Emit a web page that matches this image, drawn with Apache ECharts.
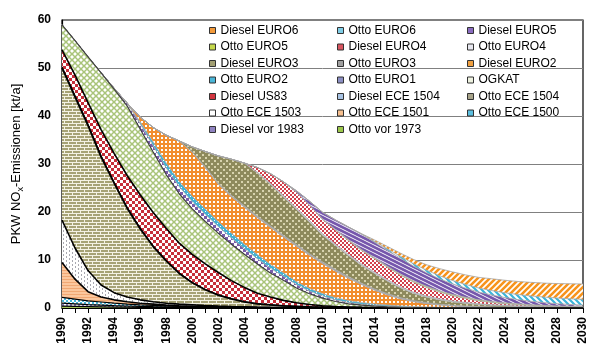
<!DOCTYPE html>
<html><head><meta charset="utf-8">
<script src="https://cdn.jsdelivr.net/npm/echarts@6/dist/echarts.min.js"></script>
<style>html,body{margin:0;padding:0;background:#fff}#c{width:600px;height:356px}</style>
</head><body><div id="c"></div>
<script>
const years = ['1990','1991','1992','1993','1994','1995','1996','1997','1998','1999','2000','2001','2002','2003','2004','2005','2006','2007','2008','2009','2010','2011','2012','2013','2014','2015','2016','2017','2018','2019','2020','2021','2022','2023','2024','2025','2026','2027','2028','2029','2030'];
const yTicks = [0,10,20,30,40,50,60];

const ottoVor1973   = [0.4,0.35,0.3,0.25,0.2,0.17,0.14,0.12,0.1,0.08, 0.06,0.05,0.04,0.03,0.03,0.02,0.02,0.02,0.01,0.01, 0.01,0,0,0,0,0,0,0,0,0, 0,0,0,0,0,0,0,0,0,0, 0];
const dieselVor1983 = [0.6,0.5,0.4,0.35,0.3,0.25,0.2,0.16,0.13,0.1, 0.08,0.06,0.05,0.04,0.03,0.02,0.02,0.01,0.01,0, 0,0,0,0,0,0,0,0,0,0, 0,0,0,0,0,0,0,0,0,0, 0];
const ottoECE1500   = [1.2,1.0,0.8,0.65,0.5,0.4,0.32,0.25,0.2,0.15, 0.12,0.1,0.08,0.06,0.05,0.04,0.03,0.02,0.02,0.01, 0.01,0,0,0,0,0,0,0,0,0, 0,0,0,0,0,0,0,0,0,0, 0];
const ottoECE1501   = [7.3,4.15,1.9,1.05,0.7,0.48,0.34,0.27,0.17,0.12, 0.1,0.08,0.06,0.05,0.04,0.03,0.02,0.02,0.01,0.01, 0,0,0,0,0,0,0,0,0,0, 0,0,0,0,0,0,0,0,0,0, 0];
const ottoECE1503   = [8.8,6.5,4.4,2.5,1.5,1.0,0.7,0.5,0.4,0.35, 0.3,0.22,0.16,0.12,0.09,0.07,0.05,0.04,0.03,0.02, 0.01,0,0,0,0,0,0,0,0,0, 0,0,0,0,0,0,0,0,0,0, 0];
const ottoECE1504   = [31.7,31.5,30.2,26.7,22.8,18.5,14.8,11.5,8.8,6.4, 4.6,3.3,2.3,1.6,1.05,0.7,0.5,0.33,0.25,0.17, 0.13,0.1,0.07,0.05,0.03,0.02,0.01,0,0,0, 0,0,0,0,0,0,0,0,0,0, 0];
const dieselECE1504 = [0.3,0.3,0.3,0.28,0.25,0.22,0.2,0.17,0.15,0.12, 0.1,0.08,0.06,0.05,0.04,0.03,0.02,0.02,0.01,0.01, 0,0,0,0,0,0,0,0,0,0, 0,0,0,0,0,0,0,0,0,0, 0];
const dieselUS83    = [3.5,4.2,4.5,5.4,5.95,6.58,6.9,6.93,6.65,6.18, 5.8,5.32,4.64,3.75,2.96,2.17,1.63,1.13,0.74,0.49, 0.3,0.2,0.15,0.08,0.05,0.03,0.02,0,0,0, 0,0,0,0,0,0,0,0,0,0, 0];
const ogkat         = [5.2,7.2,9.5,11.8,13.4,14.5,13.7,12.6,11.2,10.3, 9.5,8.8,8.2,7.6,6.9,6.1,5.0,4.2,3.1,2.25, 1.6,1.05,0.65,0.45,0.3,0.2,0.12,0.08,0.05,0.03, 0.02,0.01,0.01,0.01,0,0,0,0,0,0, 0];
const ottoEuro1     = [0,0,0,0.05,0.2,0.6,1.1,1.3,1.4,1.5, 1.5,1.5,1.4,1.3,1.2,1.1,1.0,0.85,0.7,0.55, 0.45,0.35,0.27,0.2,0.15,0.1,0.07,0.05,0.03,0.02, 0.01,0.01,0,0,0,0,0,0,0,0, 0];
const ottoEuro2     = [0,0,0,0,0,0,0.4,0.8,1.0,1.1, 1.1,1.1,1.0,1.0,0.9,0.85,0.8,0.7,0.6,0.55, 0.5,0.45,0.4,0.35,0.3,0.25,0.2,0.17,0.14,0.11, 0.09,0.07,0.05,0.04,0.03,0.02,0.02,0.01,0.01,0.01, 0.01];
const dieselEuro2   = [0,0,0,0,0,0,1.0,3.0,5.8,8.4, 9.2,8.6,7.8,7.6,7.7,7.65,7.7,7.45,7.4,6.9, 6.25,5.5,4.63,3.75,2.85,2.1,1.48,1.0,0.68,0.44, 0.28,0.18,0.12,0.08,0.06,0.04,0.03,0.02,0.01,0.01, 0.01];
const ottoEuro3     = [0,0,0,0,0,0,0,0,0,0, 0.1,0.2,0.2,0.3,0.3,0.35,0.35,0.35,0.35,0.35, 0.35,0.35,0.35,0.3,0.3,0.28,0.25,0.22,0.2,0.18, 0.16,0.14,0.12,0.1,0.09,0.08,0.07,0.06,0.05,0.04, 0.03];
const dieselEuro3   = [0,0,0,0,0,0,0,0,0,0, 1.0,3.2,5.7,7.5,8.9,9.0,8.6,8.0,7.3,6.6, 5.55,5.0,4.35,3.7,3.2,2.6,2.0,1.5,1.15,0.9, 0.7,0.55,0.42,0.32,0.25,0.19,0.14,0.11,0.08,0.06, 0.05];
const ottoEuro4     = [0,0,0,0,0,0,0,0,0,0, 0,0,0,0,0,0.15,0.25,0.3,0.3,0.3, 0.3,0.3,0.3,0.3,0.3,0.28,0.27,0.25,0.23,0.22, 0.2,0.18,0.16,0.14,0.12,0.1,0.09,0.08,0.07,0.06, 0.05];
const dieselEuro4   = [0,0,0,0,0,0,0,0,0,0, 0,0,0,0,0,1.0,2.0,2.85,3.3,3.2, 3.0,2.9,2.85,2.8,2.8,2.6,2.4,2.1,1.8,1.4, 1.1,0.85,0.6,0.45,0.33,0.25,0.18,0.13,0.1,0.08, 0.06];
const ottoEuro5     = [0,0,0,0,0,0,0,0,0,0, 0,0,0,0,0,0,0,0,0,0.05, 0.1,0.15,0.2,0.2,0.2,0.22,0.23,0.24,0.25,0.25, 0.25,0.24,0.23,0.22,0.2,0.18,0.16,0.14,0.12,0.1, 0.09];
const dieselEuro5   = [0,0,0,0,0,0,0,0,0,0, 0,0,0,0,0,0,0,0,0.3,0.8, 1.4,2.0,2.65,3.2,3.2,3.3,3.3,3.1,2.8,2.5, 2.2,1.9,1.6,1.35,1.1,0.9,0.72,0.58,0.46,0.37, 0.3];
const ottoEuro6     = [0,0,0,0,0,0,0,0,0,0, 0,0,0,0,0,0,0,0,0,0, 0,0,0,0.05,0.2,0.32,0.4,0.5,0.55,0.65, 0.7,0.78,0.85,0.92,1.0,1.05,1.1,1.15,1.18,1.2, 1.2];
const dieselEuro6   = [0,0,0,0,0,0,0,0,0,0, 0,0,0,0,0,0,0,0,0,0, 0,0,0,0.05,0.3,0.5,0.65,0.89,1.12,1.5, 1.8,1.98,2.22,2.46,2.6,2.72,2.83,2.91,3.01,3.12, 3.2];

const legendCol1 = ['Diesel EURO6','Otto EURO5','Diesel EURO3','Otto EURO2','Diesel US83','Otto ECE 1503','Diesel vor 1983'];
const legendCol2 = ['Otto EURO6','Diesel EURO4','Otto EURO3','Otto EURO1','Diesel ECE 1504','Otto ECE 1501','Otto vor 1973'];
const legendCol3 = ['Diesel EURO5','Otto EURO4','Diesel EURO2','OGKAT','Otto ECE 1504','Otto ECE 1500'];

function pat(w, h, bg, draw) {
  const c = document.createElement('canvas'); c.width = w; c.height = h;
  const g = c.getContext('2d'); g.fillStyle = bg; g.fillRect(0, 0, w, h); draw(g);
  return { image: c, repeat: 'repeat' };
}
function rects(col, list) { return g => { g.fillStyle = col; list.forEach(r => g.fillRect(r[0], r[1], r[2], r[3])); }; }
function slashes(col, lw, dir) {
  return g => { g.strokeStyle = col; g.lineWidth = lw; g.beginPath();
    if (dir > 0) { g.moveTo(-1, 7); g.lineTo(7, -1); g.moveTo(-1, 1); g.lineTo(1, -1); g.moveTo(5, 7); g.lineTo(7, 5); }
    else { g.moveTo(-1, -1); g.lineTo(7, 7); g.moveTo(5, -1); g.lineTo(7, 1); g.moveTo(-1, 5); g.lineTo(1, 7); }
    g.stroke(); };
}

const styles = {
  'Otto vor 1973':   { fill: '#a3c35b', icon: '#9cc84b', line: '#000', lw: 1.2 },
  'Diesel vor 1983': { fill: pat(4,4,'#8a7fb8', rects('#fff', [[0,0,2,2],[2,2,2,2]])), icon: '#8f82c0', line: '#000', lw: 1.2 },
  'Otto ECE 1500':   { fill: pat(4,4,'#47b8dc', rects('#fff', [[0,0,2,2],[2,2,2,2]])), icon: '#5bbfe0', line: '#000', lw: 1.2 },
  'Otto ECE 1501':   { fill: pat(4,3,'#fbc79d', rects('#f0a874', [[0,0,4,1]])), icon: '#f7c08f', line: '#000', lw: 1.6 },
  'Otto ECE 1503':   { fill: pat(6,4,'#ffffff', rects('#a8a8b0', [[0,0,1,2],[3,2,1,2]])), icon: '#ffffff', line: '#000', lw: 1.6 },
  'Otto ECE 1504':   { fill: pat(8,6,'#a6a275', rects('#f4f2e4', [[0,0,8,1],[0,3,8,1],[0,0,1,3],[4,3,1,3]])), icon: '#a8a48a', line: '#000', lw: 1.8 },
  'Diesel ECE 1504': { fill: '#c5d3ea', icon: '#a9c4e4', line: '#000', lw: 1.0 },
  'Diesel US83':     { fill: pat(6,6,'#c62f3a', rects('#fff', [[0,0,3,3],[3,3,3,3]])), icon: '#d2353f', line: '#000', lw: 1.6 },
  'OGKAT':           { fill: pat(6,6,'#ffffff', g => { g.strokeStyle = '#a9c47a'; g.lineWidth = 1.5; g.beginPath(); g.moveTo(-1,-1); g.lineTo(7,7); g.moveTo(-1,7); g.lineTo(7,-1); g.stroke(); }), icon: '#eef2e0', line: '#404040', lw: 1.2 },
  'Otto EURO1':      { fill: pat(6,6,'#ffffff', rects('#7a5cab', [[0,0,3,3],[3,3,3,3]])), icon: '#8c8fc4', line: '#a6a6a6', lw: 0.8 },
  'Otto EURO2':      { fill: pat(3,3,'#3fb3d6', rects('#fff', [[1,1,1,1]])), icon: '#4ab6d8', line: '#a6a6a6', lw: 0.8 },
  'Diesel EURO2':    { fill: pat(4,4,'#f28e2e', rects('#fff', [[1,1,2,2]])), icon: '#f0a040', line: '#a6a6a6', lw: 0.8 },
  'Otto EURO3':      { fill: '#a8a8a8', icon: '#a0a0a0', line: '#a6a6a6', lw: 0.8 },
  'Diesel EURO3':    { fill: pat(6,6,'#8e8a5c', rects('#d8d3ad', [[1,1,2,2],[4,4,2,2]])), icon: '#a29f72', line: '#a6a6a6', lw: 0.8 },
  'Otto EURO4':      { fill: '#d9d9e6', icon: '#e8e8f0', line: '#a6a6a6', lw: 0.8 },
  'Diesel EURO4':    { fill: pat(4,4,'#ffffff', rects('#d2404c', [[0,0,2,2],[2,2,2,2]])), icon: '#d95560', line: '#a6a6a6', lw: 0.8 },
  'Otto EURO5':      { fill: '#c8d97a', icon: '#c5d84a', line: '#a6a6a6', lw: 0.8 },
  'Diesel EURO5':    { fill: pat(8,4,'#ffffff', g => { g.strokeStyle = '#7657ac'; g.lineWidth = 2.8; g.beginPath(); g.moveTo(-2,-1); g.lineTo(10,5); g.moveTo(-2,-5); g.lineTo(10,1); g.moveTo(-2,3); g.lineTo(10,9); g.stroke(); }), icon: '#8a6cc0', line: '#a6a6a6', lw: 0.8 },
  'Otto EURO6':      { fill: pat(6,6,'#ffffff', slashes('#3cb4d9', 2.2, -1)), icon: '#7fcde6', line: '#a6a6a6', lw: 0.8 },
  'Diesel EURO6':    { fill: pat(6,6,'#ffffff', slashes('#f7941d', 2.6, 1)), icon: '#f39a3a', line: '#a6a6a6', lw: 0.8 }
};

const stackOrder = [
  ['Otto vor 1973', ottoVor1973], ['Diesel vor 1983', dieselVor1983], ['Otto ECE 1500', ottoECE1500],
  ['Otto ECE 1501', ottoECE1501], ['Otto ECE 1503', ottoECE1503], ['Otto ECE 1504', ottoECE1504],
  ['Diesel ECE 1504', dieselECE1504], ['Diesel US83', dieselUS83], ['OGKAT', ogkat],
  ['Otto EURO1', ottoEuro1], ['Otto EURO2', ottoEuro2], ['Diesel EURO2', dieselEuro2],
  ['Otto EURO3', ottoEuro3], ['Diesel EURO3', dieselEuro3], ['Otto EURO4', ottoEuro4],
  ['Diesel EURO4', dieselEuro4], ['Otto EURO5', ottoEuro5], ['Diesel EURO5', dieselEuro5],
  ['Otto EURO6', ottoEuro6], ['Diesel EURO6', dieselEuro6]
];

const FONT = 'Liberation Sans, Arial, sans-serif';
const series = stackOrder.map(([name, data], i) => {
  const s = styles[name];
  return {
    name, type: 'line', stack: 'total', data,
    showSymbol: false, symbol: 'none', smooth: false,
    z: i <= 8 ? 3 : 2,
    itemStyle: { color: s.icon },
    lineStyle: { color: s.line, width: s.lw },
    areaStyle: { color: s.fill, opacity: 1 },
    emphasis: { disabled: true }
  };
});

function legendOf(names, left) {
  return {
    orient: 'vertical', left, top: 23.5, padding: 0, itemWidth: 6, itemHeight: 6, itemGap: 2.5, icon: 'rect',
    selectedMode: false,
    textStyle: { fontFamily: FONT, fontSize: 12, color: '#000', lineHeight: 14 },
    data: names.map(n => ({ name: n, itemStyle: { color: styles[n].icon, borderColor: '#333', borderWidth: 1 } }))
  };
}

const chart = echarts.init(document.getElementById('c'), null, { renderer: 'canvas' });
chart.setOption({
  animation: false,
  backgroundColor: '#fff',
  grid: { left: 62, right: 17, top: 20, bottom: 48, show: true, borderColor: '#000', borderWidth: 1.2, backgroundColor: 'transparent' },
  legend: [legendOf(legendCol1, 209), legendOf(legendCol2, 337), legendOf(legendCol3, 467)],
  xAxis: {
    type: 'category', data: years, boundaryGap: false,
    axisLine: { lineStyle: { color: '#000', width: 1.2 } },
    axisTick: { show: true, interval: 0, length: 5, lineStyle: { color: '#000' } },
    axisLabel: { interval: 1, rotate: 90, margin: 9, fontFamily: FONT, fontSize: 12, fontWeight: 'bold', color: '#000' },
    splitLine: { show: false }
  },
  yAxis: {
    type: 'value', min: yTicks[0], max: yTicks[yTicks.length - 1], interval: 10,
    name: '{a|PKW NO}{s|x}{a|-Emissionen [kt/a]}', nameLocation: 'middle', nameRotate: 90, nameGap: 37,
    nameTextStyle: { rich: { a: { fontFamily: FONT, fontSize: 13, color: '#000', lineHeight: 18 }, s: { fontFamily: FONT, fontSize: 9, color: '#000', lineHeight: 9, verticalAlign: 'bottom' } } },
    axisLine: { show: true, lineStyle: { color: '#000', width: 1.2 } },
    axisTick: { show: false },
    axisLabel: { margin: 11, fontFamily: FONT, fontSize: 12, fontWeight: 'bold', color: '#000' },
    splitLine: { show: true, lineStyle: { color: '#808080', width: 1 } }
  },
  series
});
</script></body></html>
